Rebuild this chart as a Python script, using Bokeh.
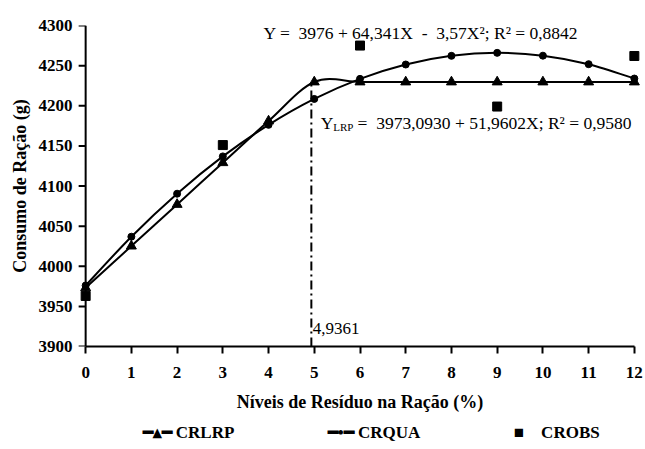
import math
from bokeh.plotting import figure
from bokeh.models import Label, Range1d, FixedTicker, Span, Title
from bokeh.embed import file_html
from bokeh.resources import INLINE

# ---- data ----
x_levels = [0, 1, 2, 3, 4, 5, 6, 7, 8, 9, 10, 11, 12]
crlrp = [3973.1, 4025.1, 4077.0, 4129.0, 4180.9, 4229.6, 4229.6, 4229.6,
         4229.6, 4229.6, 4229.6, 4229.6, 4229.6]
crqua = [3976.0, 4036.8, 4090.4, 4136.9, 4176.2, 4208.5, 4233.5, 4251.4,
         4262.2, 4265.9, 4262.4, 4251.8, 4233.9]
obs_x = [0, 3, 6, 9, 12]
obs_y = [3963, 4151, 4275, 4199, 4262]
x_ticks = [0, 1, 2, 3, 4, 5, 6, 7, 8, 9, 10, 11, 12]
y_ticks = [3900, 3950, 4000, 4050, 4100, 4150, 4200, 4250, 4300]
series_names = ["CRLRP", "CRQUA", "CROBS"]
break_x = 4.9361
break_label = "4,9361"
NB = "\u00a0"
eq_qua = ("Y =" + NB + NB + "3976 + 64,341X" + NB + NB + "-" + NB + NB +
          "3,57X\u00b2; R\u00b2 = 0,8842")
eq_lrp_rest = NB + "=" + NB + NB + "3973,0930 + 51,9602X; R\u00b2 = 0,9580"

FONT = "Liberation Serif"


def smooth_segments(xs, ys):
    """Excel-like smoothed line: cubic bezier control points per segment."""
    n = len(xs)
    seg = dict(x0=[], y0=[], x1=[], y1=[], cx0=[], cy0=[], cx1=[], cy1=[])
    for i in range(n - 1):
        ip = max(i - 1, 0)
        inx = min(i + 2, n - 1)
        seg["x0"].append(xs[i]); seg["y0"].append(ys[i])
        seg["x1"].append(xs[i + 1]); seg["y1"].append(ys[i + 1])
        seg["cx0"].append(xs[i] + (xs[i + 1] - xs[ip]) / 6.0)
        seg["cy0"].append(ys[i] + (ys[i + 1] - ys[ip]) / 6.0)
        seg["cx1"].append(xs[i + 1] - (xs[inx] - xs[i]) / 6.0)
        seg["cy1"].append(ys[i + 1] - (ys[inx] - ys[i]) / 6.0)
    return seg


p = figure(frame_width=567, frame_height=321,
           x_range=Range1d(-0.2, 12.2), y_range=Range1d(3900, 4300),
           output_backend="svg", toolbar_location=None,
           min_border_left=76, min_border_top=25, min_border_right=2,
           min_border_bottom=0, background_fill_color="white",
           border_fill_color="white")
p.outline_line_color = None
p.grid.visible = False

for ax in (p.xaxis[0], p.yaxis[0]):
    ax.axis_line_width = 2
    ax.axis_line_color = "black"
    ax.major_tick_line_width = 2
    ax.major_tick_in = 0
    ax.major_tick_out = 7
    ax.minor_tick_line_color = None
    ax.major_label_text_font = FONT
    ax.major_label_text_font_style = "bold"
    ax.major_label_text_font_size = "17px"
    ax.major_label_text_color = "black"
    ax.axis_label_text_font = FONT
    ax.axis_label_text_font_style = "bold"
    ax.axis_label_text_font_size = "18px"
    ax.axis_label_text_color = "black"

p.xaxis.ticker = FixedTicker(ticks=x_ticks)
p.yaxis.ticker = FixedTicker(ticks=y_ticks)
p.xaxis.bounds = (0, 12)
p.xaxis.axis_label = "Níveis de Resíduo na Ração (%)"
p.yaxis.axis_label = "Consumo de Ração (g)"
p.xaxis.major_label_standoff = 13
p.xaxis.axis_label_standoff = 11
# y axis: labels from the axis model, line and ticks drawn at x = 0
p.yaxis.axis_line_color = None
p.yaxis.major_tick_line_color = None
p.yaxis.major_tick_out = 0
p.yaxis.major_label_standoff = 4
p.yaxis.axis_label_standoff = 6

p.add_layout(Span(location=0, dimension="height", line_color="black",
                  line_width=2))
p.ray(x=[0] * len(y_ticks), y=y_ticks, length=7, length_units="screen",
      angle=math.pi, line_color="black", line_width=2)

# vertical break line
p.segment(x0=[break_x], y0=[3900], x1=[break_x], y1=[crlrp[-1]],
          line_color="black", line_width=2, line_dash="9 4 2 4")

s1 = smooth_segments(x_levels, crlrp)
s2 = smooth_segments(x_levels, crqua)
p.bezier(source=s1, x0="x0", y0="y0", x1="x1", y1="y1", cx0="cx0",
         cy0="cy0", cx1="cx1", cy1="cy1", line_color="black", line_width=2)
p.bezier(source=s2, x0="x0", y0="y0", x1="x1", y1="y1", cx0="cx0",
         cy0="cy0", cx1="cx1", cy1="cy1", line_color="black", line_width=2)
p.scatter(x_levels, crlrp, marker="triangle", size=10, color="black")
p.scatter(x_levels, crqua, marker="circle", size=7, color="black")
p.scatter(obs_x, obs_y, marker="square", size=9, color="black")

# annotations
p.add_layout(Label(x=3.89, y=4291, text=eq_qua, text_font=FONT,
                   text_font_size="17.5px", text_baseline="middle",
                   text_color="black"))
p.add_layout(Label(x=5.14, y=4178, text="Y", text_font=FONT,
                   text_font_size="17.5px", text_baseline="middle",
                   text_color="black"))
p.add_layout(Label(x=5.14, y=4178, x_offset=12.5, y_offset=-4, text="LRP",
                   text_font=FONT, text_font_size="11px",
                   text_baseline="middle", text_color="black"))
p.add_layout(Label(x=5.14, y=4178, x_offset=32.5, text=eq_lrp_rest,
                   text_font=FONT, text_font_size="17.5px",
                   text_baseline="middle", text_color="black"))
p.add_layout(Label(x=break_x, y=3922, x_offset=1.5, text=break_label,
                   text_font=FONT, text_font_size="17px",
                   text_baseline="middle", text_color="black"))

# legend row under the axis title (line+marker keys as symbols)
gap = NB * 22
legend_text = ("\u2501\u25b4\u2501" + NB + series_names[0] + gap +
               "\u2501\u2022\u2501" + NB + series_names[1] + gap +
               "\u25a0" + NB * 4 + series_names[2])
p.add_layout(Title(text=legend_text, align="left", offset=66, standoff=13,
                   text_font=FONT, text_font_style="bold",
                   text_font_size="17px", text_color="black"), "below")

open("out.html", "w").write(file_html(p, INLINE))
